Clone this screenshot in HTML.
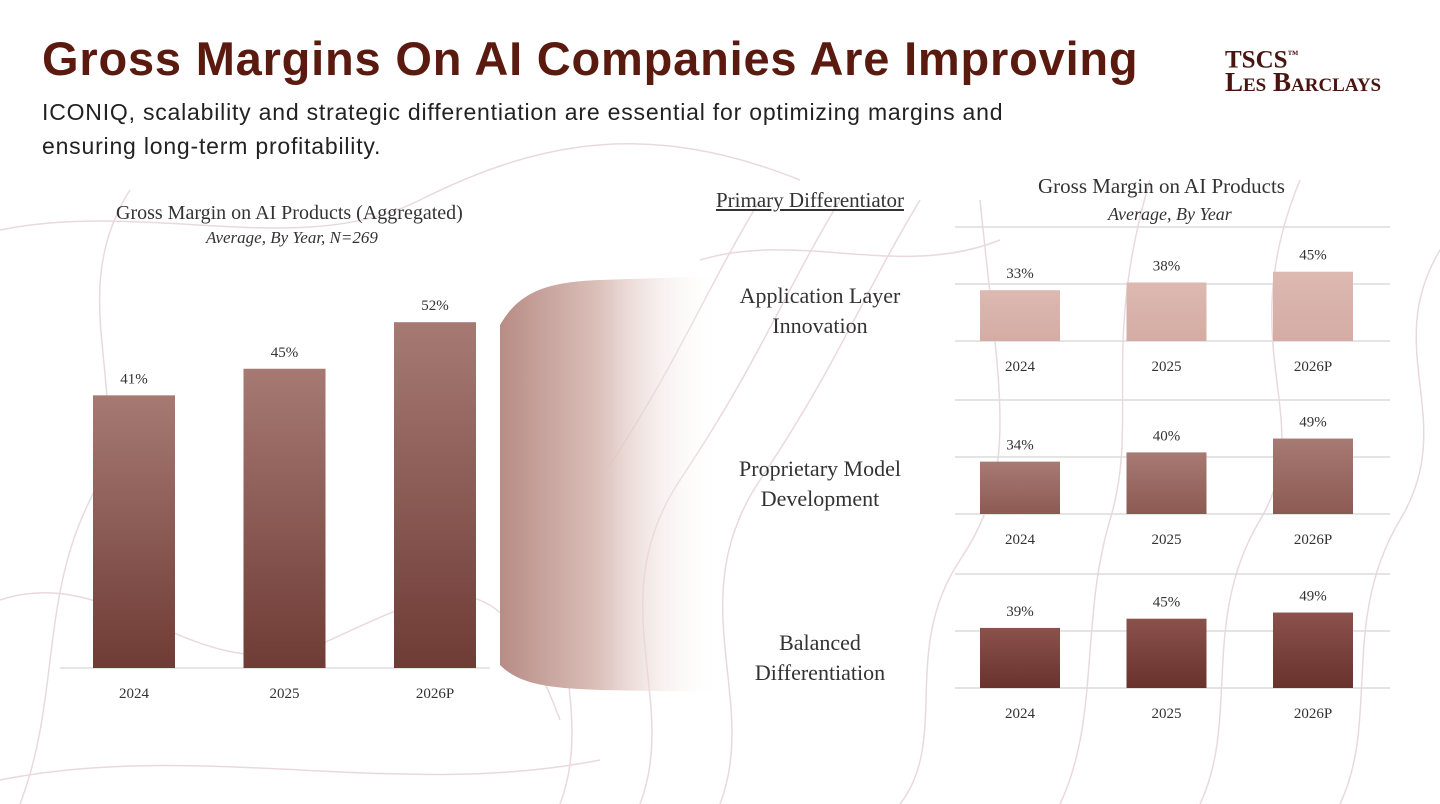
<!DOCTYPE html>
<html><head><meta charset="utf-8"><style>
html,body{margin:0;padding:0;}
body{width:1440px;height:804px;position:relative;overflow:hidden;background:#fff;font-family:"Liberation Serif",serif;}
.t{position:absolute;white-space:nowrap;}
</style></head><body>
<svg width="1440" height="804" style="position:absolute;left:0;top:0" fill="none" stroke="#ead9dc" stroke-width="1.5">
<path d="M0 230 C150 200 300 260 420 200 S 650 120 800 180"/>
<path d="M0 600 C120 560 200 700 330 640 S 500 560 560 720"/>
<path d="M20 804 C60 700 40 600 90 500 S 60 300 130 190"/>
<path d="M560 804 C600 700 520 600 600 480 S 700 300 760 200"/>
<path d="M640 804 C680 700 600 600 680 480 S 780 300 840 200"/>
<path d="M720 804 C760 700 680 600 760 480 S 860 300 920 200"/>
<path d="M900 804 C950 740 900 650 960 560 S 1000 400 980 200"/>
<path d="M1060 804 C1100 720 1080 620 1110 520 S 1100 350 1150 180"/>
<path d="M1200 804 C1240 720 1200 620 1260 520 S 1230 350 1300 180"/>
<path d="M1340 804 C1380 720 1340 620 1400 520 S 1380 350 1440 250"/>
<path d="M0 780 C200 740 400 800 600 760"/>
<path d="M700 260 C800 230 900 280 1000 240"/>
</svg>
<div class="t" style="left:42px;top:31px;font-family:'Liberation Sans',sans-serif;font-weight:bold;font-size:47px;letter-spacing:0.8px;color:#5a1a0f;">Gross Margins On AI Companies Are Improving</div>
<div class="t" style="left:42px;top:95px;font-family:'Liberation Sans',sans-serif;font-size:23px;letter-spacing:0.8px;line-height:34px;color:#222;white-space:normal;width:1060px;">ICONIQ, scalability and strategic differentiation are essential for optimizing margins and ensuring long-term profitability.</div>
<div class="t" style="left:1225px;top:44px;font-size:25px;line-height:23px;color:#4a1510;font-weight:bold;">TSCS<sup style="font-size:11px">™</sup><br><span style="font-variant:small-caps;font-size:27px">Les Barclays</span></div>

<svg id="chart" width="1440" height="804" style="position:absolute;left:0;top:0">
<defs>
<linearGradient id="gMain" x1="0" y1="0" x2="0" y2="1"><stop offset="0" stop-color="#a67a73"/><stop offset="1" stop-color="#6f3b35"/></linearGradient>
<linearGradient id="g0" x1="0" y1="0" x2="0" y2="1"><stop offset="0" stop-color="#dcb9b1"/><stop offset="1" stop-color="#d4aca4"/></linearGradient>
<linearGradient id="g1" x1="0" y1="0" x2="0" y2="1"><stop offset="0" stop-color="#a77a73"/><stop offset="1" stop-color="#8c5a53"/></linearGradient>
<linearGradient id="g2" x1="0" y1="0" x2="0" y2="1"><stop offset="0" stop-color="#8a524b"/><stop offset="1" stop-color="#6a322d"/></linearGradient>
<linearGradient id="funnel" x1="0" y1="0" x2="1" y2="0"><stop offset="0" stop-color="#b78c85"/><stop offset="0.45" stop-color="#dcc0ba"/><stop offset="1" stop-color="#fff" stop-opacity="0"/></linearGradient>
</defs>
<path d="M500 325 C520 290 550 282 600 280 L720 276 L720 692 L600 690 C550 688 520 685 500 665 Z" fill="url(#funnel)"/>
</svg>

<div class="t" style="left:116px;top:202px;font-size:20px;color:#333;">Gross Margin on AI Products (Aggregated)</div>
<div class="t" style="left:206px;top:228px;font-size:17px;font-style:italic;color:#333;">Average, By Year, N=269</div>
<div class="t" style="left:716px;top:188px;font-size:21px;color:#333;text-decoration:underline;">Primary Differentiator</div>
<div class="t" style="left:1038px;top:174px;font-size:21px;color:#333;">Gross Margin on AI Products</div>
<div class="t" style="left:1108px;top:204px;font-size:18px;font-style:italic;color:#333;">Average, By Year</div>

<script>
const years = ["2024","2025","2026P"];
const aggValues = [41, 45, 52];
const segments = ["Application Layer\nInnovation","Proprietary Model\nDevelopment","Balanced\nDifferentiation"];
const segValues = [[33,38,45],[34,40,49],[39,45,49]];

const svg = document.getElementById('chart');
const NS = 'http://www.w3.org/2000/svg';
function mk(tag, attrs){const e=document.createElementNS(NS,tag);for(const k in attrs)e.setAttribute(k,attrs[k]);svg.appendChild(e);return e;}
function txt(x,y,s,size,name){const e=mk('text',{x:x,y:y,'text-anchor':'middle','font-size':size,fill:'#333','font-family':'Liberation Serif, serif'});e.textContent=s;


return e;}

// left aggregated chart
const lBase = 668, lScale = 6.65, lX0 = 93, lStep = 150.5, lW = 82;
const ax = mk('line',{x1:60,x2:490,y1:lBase,y2:lBase,stroke:'#ddd','stroke-width':1.5});


aggValues.forEach((v,i)=>{
  const x = lX0 + i*lStep, h = v*lScale;
  const r = mk('rect',{x:x,y:lBase-h,width:lW,height:h,fill:'url(#gMain)'});
  
  
  txt(x+lW/2, lBase-h-12, v+'%', 15, 'agg-value-'+years[i]);
  txt(x+lW/2, lBase+30, years[i], 15, 'agg-year-'+years[i]);
});

// right small multiples
const rBases = [341, 514, 688], rScale = 1.54, rX0 = 980, rStep = 146.5, rW = 80, grid = 57;
segValues.forEach((vals,s)=>{
  const b = rBases[s];
  for(let g=0; g<3; g++){
    const gl = mk('line',{x1:955,x2:1390,y1:b-g*grid,y2:b-g*grid,stroke:'#dcdcdc','stroke-width':1.5});
    
    
  }
  const lines = segments[s].split('\n');
  lines.forEach((ln,k)=>txt(820, b-38+k*30, ln, 22, 'segment-label'));
  vals.forEach((v,i)=>{
    const x = rX0 + i*rStep, h = v*rScale;
    const r = mk('rect',{x:x,y:b-h,width:rW,height:h,fill:'url(#g'+s+')'});
    
    
    txt(x+rW/2, b-h-12, v+'%', 15, 'segment-value');
    txt(x+rW/2, b+30, years[i], 15, 'segment-year');
  });
});
</script>
</body></html>
